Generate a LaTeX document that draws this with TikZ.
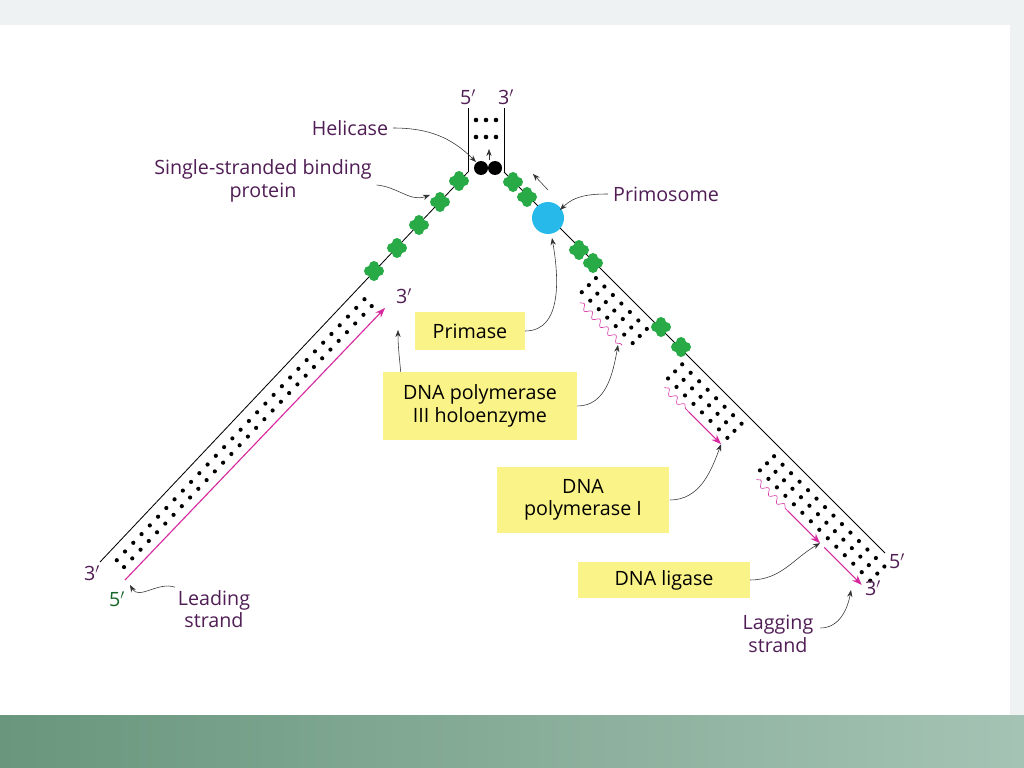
\documentclass[tikz,border=0pt]{standalone}
\usepackage{fontspec}
\setmainfont{Open Sans}
\usetikzlibrary{decorations.pathmorphing,arrows.meta}
\definecolor{forkpurple}{RGB}{80, 30, 85}
\definecolor{forkmagenta}{RGB}{215, 40, 160}
\definecolor{forkgreen}{RGB}{40, 170, 70}
\definecolor{forkcyan}{RGB}{40, 185, 235}
\definecolor{forkyellow}{RGB}{250, 243, 135}
\definecolor{forkgray}{RGB}{238, 242, 242}
\definecolor{bandleft}{RGB}{105, 150, 125}
\definecolor{bandright}{RGB}{165, 195, 180}

\tikzset{
    tag/.style={text=forkpurple, align=center, font=\fontsize{14}{16}\selectfont},
    box/.style={fill=forkyellow, align=center, inner sep=0pt, font=\fontsize{14}{16}\selectfont},
    pointer/.style={-{Stealth[length=5pt]}, thin, black!80},
    newdna/.style={forkmagenta, thick, -{Stealth[length=7pt]}},
    primer/.style={forkmagenta, decorate, decoration={snake, amplitude=2pt, segment length=8pt}},
    ssb/.style={fill=forkgreen, draw=none},
    dot/.style={fill=black, draw=none}
}

\begin{document}
\begin{tikzpicture}[x=0.025cm, y=-0.025cm]
    % Page background
    \fill[forkgray] (0,0) rectangle (1024,768);
    \fill[white] (0,25) rectangle (1010,715);
    \shade[left color=bandleft, right color=bandright] (0,715) rectangle (1024,768);
    \useasboundingbox (0,0) rectangle (1024,768);

    % Parental duplex
    \coordinate (tl) at (468,108);
    \coordinate (tr) at (504,108);
    \coordinate (fl) at (468,172);
    \coordinate (fr) at (504,172);
    \draw[semithick] (tl) -- (fl);
    \draw[semithick] (tr) -- (fr);
    \foreach \y in {120,137}
        \foreach \x in {476,486,496}
            \fill[dot] (\x,\y) circle (2.3);
    \node[tag] at (468,97) {5$'$};
    \node[tag] at (506,97) {3$'$};

    % Template strands
    \coordinate (le) at (100,562);
    \coordinate (re) at (885,553);
    \draw[semithick] (fl) -- (le);
    \draw[semithick] (fr) -- (re);
    \node[tag] at (92,573) {3$'$};
    \node[tag] at (897,561) {5$'$};

    % Leading strand
    \coordinate (ls) at (125,580);
    \coordinate (lt) at (385,308);
    \draw[newdna] (ls) -- (lt);
    \foreach \s in {165,177,...,530}
        \foreach \o in {11,21}
            \fill[dot] ({470-0.688*\s+0.725*\o},{172+0.725*\s+0.688*\o}) circle (2.1);
    \node[tag] at (404,296) {3$'$};
    \node[tag, text=forkgreen!60!black] at (117,599) {5$'$};

    % Lagging strand fragments
    \foreach \a/\n in {140/6, 262/7, 392/13}
        \foreach \i in {0,...,\n}
            \foreach \o in {10,20,30}
                \fill[dot] ({504+0.707*(\a+12*\i)-0.707*\o},{172+0.707*(\a+12*\i)+0.707*\o}) circle (2.1);
    \draw[primer] ({504+0.707*146-0.707*39},{172+0.707*146+0.707*39}) -- ({504+0.707*206-0.707*39},{172+0.707*206+0.707*39});
    \draw[primer] ({504+0.707*266-0.707*39},{172+0.707*266+0.707*39}) -- ({504+0.707*300-0.707*39},{172+0.707*300+0.707*39});
    \draw[newdna] ({504+0.707*300-0.707*39},{172+0.707*300+0.707*39}) coordinate (k1) -- ({504+0.707*346-0.707*39},{172+0.707*346+0.707*39}) coordinate (k2);
    \draw[primer] ({504+0.707*396-0.707*39},{172+0.707*396+0.707*39}) -- ({504+0.707*440-0.707*39},{172+0.707*440+0.707*39});
    \draw[newdna] ({504+0.707*440-0.707*39},{172+0.707*440+0.707*39}) -- ({504+0.707*486-0.707*39},{172+0.707*486+0.707*39}) coordinate (k3);
    \draw[newdna] ({504+0.707*492-0.707*39},{172+0.707*492+0.707*39}) -- ({504+0.707*545-0.707*39},{172+0.707*545+0.707*39}) coordinate (k4);
    \node[tag] at (873,588) {3$'$};

    % Single-stranded binding proteins
    \foreach \x/\y in {459/181,440/202,419/225,397/248,374/271,513/182,527/197,579/250,593/263,661/327,681/347}
        \foreach \dx/\dy in {-5/0,5/0,0/-5,0/5}
            \fill[ssb] (\x+\dx,\y+\dy) circle (5);

    % Helicase and primosome
    \fill (481,168) circle (7);
    \fill (495,168) circle (7);
    \coordinate (hel) at (476,162);
    \draw[pointer] (489,160) -- (489,149);
    \fill[forkcyan] (548,218) circle (16);
    \coordinate (pri) at (548,218);
    \draw[pointer] (548,190) -- (533,174);

    % Labels
    \node[tag] (helicase) at (350,128) {Helicase};
    \node[tag] (ssbtext) at (263,181) {Single-stranded binding\\protein};
    \node[tag] (primosome) at (666,194) {Primosome};
    \node[tag] (leading) at (214,609) {Leading\\strand};
    \node[tag] (lagging) at (778,634) {Lagging\\strand};

    \node[box, minimum width=78pt, minimum height=27pt] (primase) at (470,331) {Primase};
    \node[box, minimum width=138pt, minimum height=48pt] (pol3) at (480,406) {DNA polymerase\\III holoenzyme};
    \node[box, minimum width=123pt, minimum height=47pt] (pol1) at (583,500) {DNA\\polymerase I};
    \node[box, minimum width=122pt, minimum height=25pt] (ligase) at (664,580) {DNA ligase};

    % Pointers
    \draw[pointer] (helicase.east) to[out=0, in=135] (hel);
    \draw[pointer] (ssbtext.east) ++(0,4) to[out=-5, in=200] (430,195);
    \draw[pointer] (primosome.west) to[out=180, in=45] (560,210);
    \draw[pointer] (primase.east) to[out=0, in=-80] (552,238);
    \draw[pointer] (pol3.north west) ++(18,0) to[out=95, in=-90] (398,330);
    \draw[pointer] (pol3.east) to[out=0, in=-100] (618,345);
    \draw[pointer] (pol1.east) to[out=0, in=-110] (k2);
    \draw[pointer] (ligase.east) to[out=0, in=-150] (k3);
    \draw[pointer] (leading.north west) ++(2,2) to[out=160, in=-60] (130,585);
    \draw[pointer] (lagging.east) ++(2,-6) to[out=0, in=-100] (851,590);
\end{tikzpicture}
\end{document}
